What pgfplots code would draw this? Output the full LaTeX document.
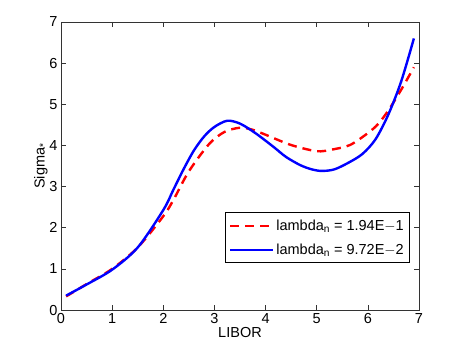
\documentclass[border=0pt]{standalone}
\usepackage{fontspec}
\setmainfont{Liberation Sans}
\usepackage{pgfplots}
\pgfplotsset{compat=1.18}

\begin{document}
\begin{tikzpicture}
\begin{axis}[
  scale only axis,
  width=358pt, height=288pt,
  xmin=0, xmax=7, ymin=0, ymax=7,
  xtick={0,...,7}, ytick={0,...,7},
  tick align=inside,
  major tick length=5pt,
  axis line style={draw=black!80, line width=0.6pt},
  tick style={draw=black!80, line width=0.5pt},
  /pgf/number format/assume math mode=true,
  tick label style={font=\fontsize{14.5}{16}\selectfont},
  label style={font=\fontsize{14.5}{16}\selectfont},
  xlabel={LIBOR},
  ylabel={Sigma\textsubscript{*}},
  xlabel style={yshift=3pt},
  ylabel style={yshift=-5pt},
  legend style={at={(0.975,0.163)}, anchor=south east, draw=black,
    line width=0.6pt, font=\fontsize{14.5}{16}\selectfont,
    inner xsep=4pt, inner ysep=5pt, row sep=8pt},
  legend cell align=left,
  legend image code/.code={\draw[#1, line width=2.4pt] (0pt,0pt) -- (43pt,0pt);},
]
\addplot[red, line width=2.4pt, dash pattern=on 9pt off 6pt, smooth] coordinates {
(0.1,0.33) (0.5,0.63) (1.0,1.0) (1.5,1.52) (2.0,2.28) (2.2,2.68) (2.5,3.37)
(2.9,4.04) (3.2,4.33) (3.5,4.43) (3.75,4.38) (4.0,4.26) (4.5,4.01)
(5.0,3.86) (5.3,3.9) (5.65,4.01) (6.0,4.3) (6.2,4.52) (6.4,4.85)
(6.65,5.35) (6.9,5.9)};
\addlegendentry{lambda\textsubscript{n} = 1.94E$-$1}
\addplot[blue, line width=2.4pt, smooth] coordinates {
(0.1,0.35) (0.5,0.62) (1.0,0.98) (1.5,1.52) (2.0,2.43) (2.2,2.93) (2.4,3.43)
(2.6,3.88) (2.8,4.22) (3.0,4.45) (3.25,4.6) (3.5,4.53) (3.8,4.3) (4.15,3.97)
(4.4,3.72) (4.68,3.52) (4.9,3.42) (5.1,3.38) (5.35,3.42) (5.65,3.6)
(5.9,3.8) (6.15,4.15) (6.4,4.75) (6.65,5.55) (6.9,6.6)};
\addlegendentry{lambda\textsubscript{n} = 9.72E$-$2}
\end{axis}
\path[use as bounding box] ([shift={(-61pt,-40pt)}]current axis.south west)
  rectangle ([shift={(48pt,22pt)}]current axis.north east);
\end{tikzpicture}
\end{document}
